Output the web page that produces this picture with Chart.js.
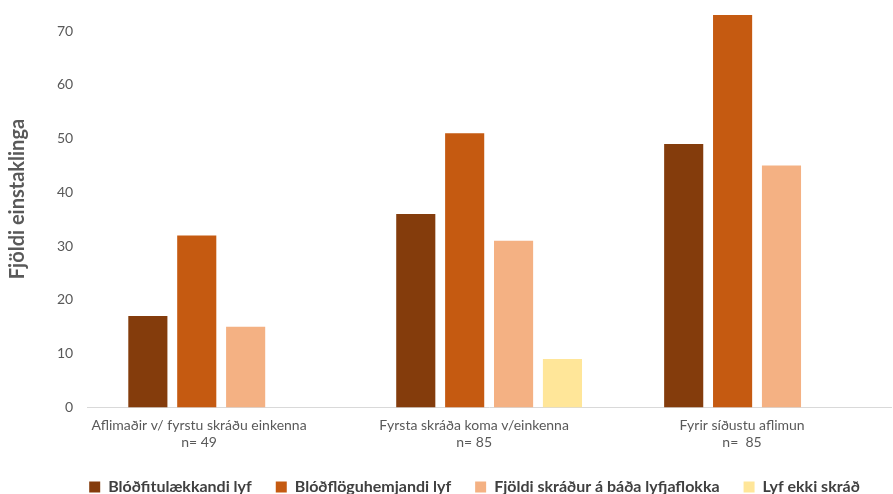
<!DOCTYPE html>
<html>
<head>
<meta charset="utf-8">
<script src="https://cdn.jsdelivr.net/npm/chart.js@4"></script>
<style>
  html, body { margin: 0; padding: 0; background: #ffffff; }
  #wrap { width: 893px; height: 494px; }
</style>
</head>
<body>
<div id="wrap"><canvas id="c" width="893" height="494"></canvas></div>
<script>
const categories = [
  ['Aflimaðir v/ fyrstu skráðu einkenna    ', 'n= 49    '],
  ['Fyrsta skráða koma v/einkenna', 'n= 85'],
  ['Fyrir síðustu aflimun', 'n=  85']
];
const seriesNames = [
  'Blóðfitulækkandi lyf',
  'Blóðflöguhemjandi lyf',
  'Fjöldi skráður á báða lyfjaflokka',
  'Lyf ekki skráð'
];
const blodfitu = [17, 36, 49];
const blodflogu = [32, 51, 73];
const badir = [15, 31, 45];
const ekkiSkrad = [null, 9, null];
const yTicks = [0, 10, 20, 30, 40, 50, 60, 70];
const yTitle = '     Fjöldi einstaklinga';

const colors = ['#843C0C', '#C55A11', '#F4B183', '#FFE699'];
const values = [blodfitu, blodflogu, badir, ekkiSkrad];

const FONT = 'Lato, "Open Sans", sans-serif';

// Nudges the legend row after layout so it sits under the plot as in the report,
// and lets its box run to the bottom edge so the labels are not clipped.
const legendNudge = {
  id: 'legendNudge',
  afterLayout(chart) {
    const lg = chart.legend;
    if (!lg) return;
    const dx = 26, dy = -6;
    lg.left += dx; lg.right += dx;
    lg.top += dy;
    lg.bottom = chart.height;
  }
};

new Chart(document.getElementById('c'), {
  type: 'bar',
  data: {
    labels: categories,
    datasets: values.map((v, i) => ({
      label: seriesNames[i],
      data: v,
      backgroundColor: colors[i],
      borderWidth: 0,
      barPercentage: 0.8,
      categoryPercentage: 0.73
    }))
  },
  plugins: [legendNudge],
  options: {
    responsive: false,
    animation: false,
    devicePixelRatio: 1,
    layout: { padding: { left: 6, right: 2, top: 15, bottom: 0 } },
    plugins: {
      tooltip: { enabled: false },
      legend: {
        position: 'bottom',
        maxHeight: 33,
        labels: {
          boxWidth: 11,
          boxHeight: 11,
          padding: 24,
          color: '#404040',
          font: { family: FONT, size: 16, weight: 'bold' }
        }
      }
    },
    scales: {
      x: {
        grid: { display: false, drawTicks: false },
        border: { display: true, color: '#d9d9d9', width: 1 },
        ticks: {
          color: '#595959',
          font: { family: FONT, size: 14, lineHeight: 1.2 },
          maxRotation: 0,
          autoSkip: false,
          padding: 10,
          labelOffset: -15
        }
      },
      y: {
        min: 0,
        max: 73,
        afterBuildTicks: (axis) => { axis.ticks = yTicks.map(v => ({ value: v })); },
        afterFit: (axis) => { axis.paddingTop = 0; },
        grid: { display: false, drawTicks: false },
        border: { display: false },
        ticks: {
          color: '#595959',
          font: { family: FONT, size: 14 },
          padding: 14
        },
        title: {
          display: true,
          text: yTitle,
          color: '#595959',
          font: { family: FONT, size: 20, weight: 'bold' },
          padding: { top: 0, bottom: 13 }
        }
      }
    }
  }
});
</script>
</body>
</html>
